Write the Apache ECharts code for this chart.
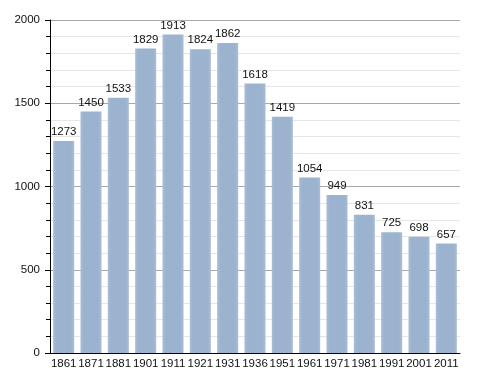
<!DOCTYPE html>
<html><head><meta charset="utf-8">
<script src="https://cdn.jsdelivr.net/npm/echarts@6/dist/echarts.min.js"></script>
<style>html,body{margin:0;padding:0;background:#fff}#c{width:488px;height:373px}</style>
</head><body><div id="c"></div>
<script>
var years = ['1861','1871','1881','1901','1911','1921','1931','1936','1951','1961','1971','1981','1991','2001','2011'];
var population = [1273,1450,1533,1829,1913,1824,1862,1618,1419,1054,949,831,725,698,657];
var yTicks = [0,500,1000,1500,2000];
var FONT = '"Liberation Sans Narrow", "Liberation Sans", Arial';

var chart = echarts.init(document.getElementById('c'), null, {renderer:'canvas'});
chart.setOption({
  animation:false,
  grid:{left:50,right:28,top:20,bottom:20,containLabel:false},
  xAxis:{
    type:'category', data:years,
    axisLine:{lineStyle:{color:'#000',width:1}},
    axisTick:{show:false},
    axisLabel:{color:'#111',fontFamily:FONT,fontSize:11.5,margin:5,interval:0}
  },
  yAxis:{
    type:'value', min:0, max:2000, interval:500,
    axisLine:{show:true,lineStyle:{color:'#000',width:1}},
    axisTick:{show:true,inside:false,length:5,lineStyle:{color:'#000'}},
    minorTick:{show:true,splitNumber:5,length:4,lineStyle:{color:'#000'}},
    axisLabel:{color:'#111',fontFamily:FONT,fontSize:11.5,margin:10,
      formatter:function(v){return yTicks.indexOf(v)>=0?String(v):'';}},
    splitLine:{show:true,lineStyle:{color:'#a8a8a8',width:1}},
    minorSplitLine:{show:true,lineStyle:{color:'#e6e6e6',width:1}}
  },
  series:[{
    type:'bar', data:population, barWidth:'77%',
    itemStyle:{color:new echarts.graphic.LinearGradient(0,0,1,0,[
      {offset:0,color:'#a9bed6'},{offset:0.15,color:'#9cb3cf'},{offset:0.85,color:'#9cb3cf'},{offset:1,color:'#a9bed6'}])},
    label:{show:true,position:'top',distance:3,color:'#111',fontFamily:FONT,fontSize:11.5}
  }]
});
</script></body></html>
